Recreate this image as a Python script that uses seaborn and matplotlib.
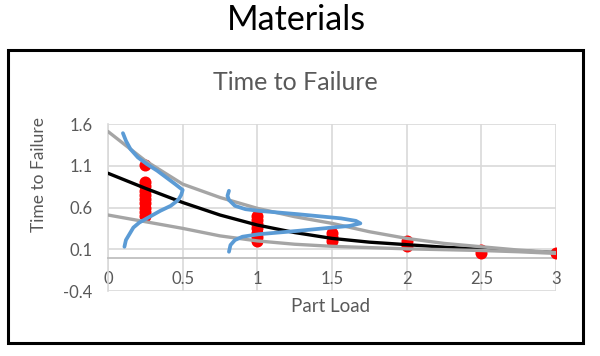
import seaborn as sns
import matplotlib.pyplot as plt
import pandas as pd
from matplotlib.patches import Rectangle

# curve readings (Part Load vs Time to Failure)
load = [0, 0.25, 0.5, 0.75, 1, 1.25, 1.5, 1.75, 2, 2.25, 2.5, 2.75, 3]
mean_ttf = [1.01, 0.83, 0.66, 0.51, 0.39, 0.30, 0.23, 0.185, 0.155, 0.125, 0.10, 0.08, 0.06]
upper_ttf = [1.51, 1.16, 0.88, 0.72, 0.59, 0.49, 0.41, 0.31, 0.23, 0.17, 0.13, 0.09, 0.06]
lower_ttf = [0.51, 0.43, 0.35, 0.26, 0.20, 0.16, 0.135, 0.12, 0.105, 0.095, 0.085, 0.07, 0.05]

# failure observations
obs_load = [0.25] * 10 + [1] * 7 + [1.5] * 3 + [2] * 2 + [2.5] * 2 + [3]
obs_ttf = [1.11, 0.91, 0.86, 0.80, 0.75, 0.70, 0.65, 0.60, 0.55, 0.50,
           0.50, 0.45, 0.40, 0.35, 0.30, 0.25, 0.20,
           0.30, 0.25, 0.20,
           0.20, 0.14,
           0.09, 0.05,
           0.05]

# hand-drawn distributions
dist1_x = [0.10, 0.12, 0.15, 0.20, 0.26, 0.33, 0.39, 0.45, 0.50, 0.49, 0.47,
           0.42, 0.35, 0.28, 0.21, 0.17, 0.15, 0.12, 0.11]
dist1_y = [1.49, 1.40, 1.30, 1.20, 1.12, 1.04, 0.96, 0.88, 0.81, 0.75, 0.69,
           0.62, 0.56, 0.49, 0.42, 0.36, 0.30, 0.21, 0.13]
dist2_x = [0.81, 0.80, 0.81, 0.85, 0.92, 1.01, 1.27, 1.56, 1.66, 1.69, 1.62,
           1.56, 1.27, 1.01, 0.90, 0.85, 0.82, 0.81]
dist2_y = [0.80, 0.74, 0.69, 0.62, 0.58, 0.56, 0.52, 0.47, 0.44, 0.41, 0.38,
           0.37, 0.32, 0.28, 0.25, 0.21, 0.15, 0.07]

xticks = [0, 0.5, 1, 1.5, 2, 2.5, 3]
xlabels = ['0', '0.5', '1', '1.5', '2', '2.5', '3']
yticks = [-0.4, 0.1, 0.6, 1.1, 1.6]
ylabels = ['-0.4', '0.1', '0.6', '1.1', '1.6']

sns.set_style('white')
plt.rcParams['font.family'] = ['Lato', 'DejaVu Sans']

fig = plt.figure(figsize=(6, 3.56), dpi=100)
ax = fig.add_axes([108 / 600, 1 - 291 / 356, 448 / 600, 167 / 356])

curves = pd.DataFrame({'load': load, 'mean': mean_ttf, 'upper': upper_ttf, 'lower': lower_ttf})
obs = pd.DataFrame({'load': obs_load, 'ttf': obs_ttf})

sns.scatterplot(data=obs, x='load', y='ttf', color='#ff0000', s=75, linewidth=0, ax=ax, zorder=3)
sns.lineplot(data=curves, x='load', y='mean', color='black', lw=2.4, ax=ax, zorder=4)
sns.lineplot(data=curves, x='load', y='upper', color='#a5a5a5', lw=2.4, ax=ax, zorder=5)
sns.lineplot(data=curves, x='load', y='lower', color='#a5a5a5', lw=2.4, ax=ax, zorder=5)
sns.lineplot(x=dist1_x, y=dist1_y, sort=False, estimator=None, color='#5b9bd5', lw=2.7,
             solid_joinstyle='round', ax=ax, zorder=6)
sns.lineplot(x=dist2_x, y=dist2_y, sort=False, estimator=None, color='#5b9bd5', lw=2.7,
             solid_joinstyle='round', ax=ax, zorder=6)

ax.set_xlim(0, 3)
ax.set_ylim(-0.4, 1.6)
ax.set_xticks(xticks, xlabels)
ax.set_yticks(yticks, ylabels)
ax.set_xlabel('')
ax.set_ylabel('')
ax.grid(True, color='#d9d9d9', lw=1.2)
ax.set_axisbelow(True)
for s in ['top', 'right']:
    ax.spines[s].set_visible(False)
ax.spines['bottom'].set_position(('data', 0))
ax.spines['bottom'].set_color('#bfbfbf')
ax.spines['left'].set_color('#d9d9d9')
ax.spines['bottom'].set_linewidth(1.3)
ax.spines['left'].set_linewidth(1.2)
ax.tick_params(axis='both', length=0, labelsize=12, labelcolor='#595959')
ax.tick_params(axis='x', pad=10)
ax.tick_params(axis='y', pad=11)

# frame and titles
fig.patches.append(Rectangle((8 / 600, 1 - 343 / 356), 575 / 600, 293 / 356,
                             transform=fig.transFigure, fill=False, ec='black', lw=2.2))
fig.text(296 / 600, 1 - 20 / 356, 'Materials', ha='center', va='center', fontsize=24.5, color='black')
fig.text(295 / 600, 1 - 83 / 356, 'Time to Failure', ha='center', va='center', fontsize=18, color='#595959')
fig.text(39 / 600, 1 - 175 / 356, 'Time to Failure', ha='center', va='center', rotation=90,
         fontsize=12.5, color='#595959')
fig.text(331 / 600, 1 - 307 / 356, 'Part Load', ha='center', va='center', fontsize=13.5, color='#595959')

plt.savefig('out.png', dpi=100)
